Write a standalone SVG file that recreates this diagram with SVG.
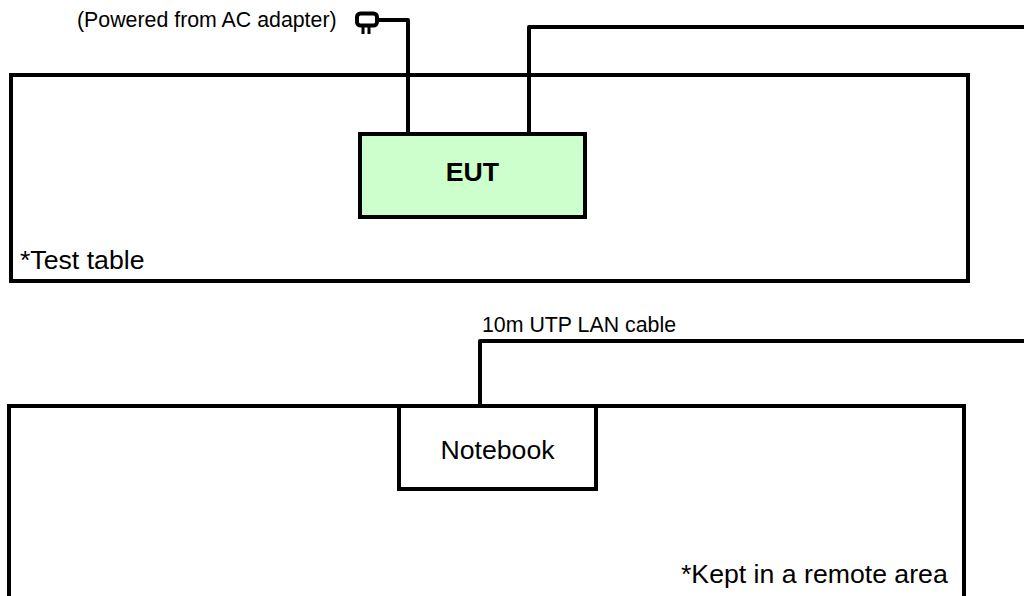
<svg xmlns="http://www.w3.org/2000/svg" width="1024" height="596" viewBox="0 0 1024 596">
<style>
.b{fill:none;stroke:#000;stroke-width:4}
.c{fill:none;stroke:#000;stroke-width:4;stroke-linejoin:round}
.p{fill:none;stroke:#000;stroke-width:3}
text{font-family:"Liberation Sans",Arial,sans-serif;fill:#000}
.l{font-size:26.670px}
.s{font-size:21.330px}
</style>
<rect width="1024" height="596" fill="#fff"/>
<g id="test-table"><rect class="b" x="11" y="75" width="957" height="206"/><text class="l" x="20" y="269">*Test table</text></g>
<g id="remote-area"><path class="b" d="M9 596V406H964V596"/><text class="l" x="681" y="583">*Kept in a remote area</text></g>
<g id="connectors">
<path class="c" d="M408 134V20H378"/>
<path class="c" d="M529 134V27H1024"/>
<path class="c" d="M480 406V341H1024"/>
</g>
<g id="plug"><rect class="b" x="357" y="13.500" width="20" height="12" rx="3.500"/><path class="p" d="M363 26v8M369 26v8"/></g>
<g id="eut"><rect x="360" y="134" width="225" height="83" fill="#ccffcc" stroke="#000" stroke-width="4"/><text class="l" x="472.500" y="181" font-weight="bold" text-anchor="middle">EUT</text></g>
<g id="notebook"><rect x="399" y="406" width="197" height="83" fill="#fff" stroke="#000" stroke-width="4"/><text class="l" x="497.500" y="459" text-anchor="middle">Notebook</text></g>
<text class="s" x="77" y="27">(Powered from AC adapter)</text>
<text class="s" x="482" y="332">10m UTP LAN cable</text>
</svg>
